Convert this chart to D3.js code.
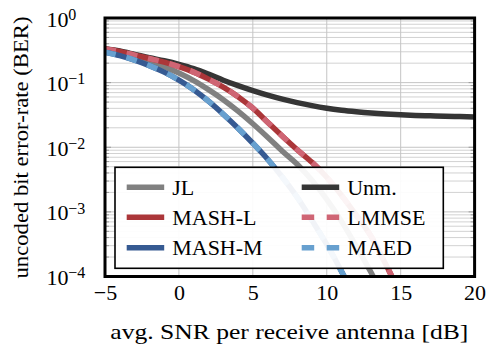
<!DOCTYPE html>
<html>
<head>
<meta charset="utf-8">
<script src="https://cdn.jsdelivr.net/npm/d3@7"></script>
<style>
  html, body { margin: 0; padding: 0; background: #fff; }
  svg text { font-family: "Liberation Serif", "Times New Roman", serif; fill: #000; }
</style>
</head>
<body>
<div id="chart"></div>
<script>
// SNR grid in dB (x values), one entry per data point
const snrDb = [-5, -4, -3, -2, -1, 0, 1, 2, 3, 4, 5, 6, 7, 8, 9, 10, 11, 12, 13, 14, 15, 16, 17, 18, 19, 20];

// BER, starting at -5 dB
const berUnm = [0.335, 0.308, 0.274, 0.243, 0.218, 0.192, 0.165, 0.1355, 0.109, 0.0898, 0.0752, 0.064, 0.0555,
  0.049, 0.044, 0.0402, 0.0375, 0.0355, 0.0339, 0.0327, 0.0318, 0.0311, 0.0306, 0.0301, 0.0298, 0.0295];
const berMashL = [0.331, 0.303, 0.267, 0.236, 0.208, 0.177, 0.1455, 0.1133, 0.0851, 0.0607, 0.0402, 0.0244,
  0.0148, 0.00915, 0.00585, 0.00343, 0.0018, 0.000883, 0.000417, 0.000153, 0.0000526];
const berLmmse = [0.331, 0.303, 0.267, 0.236, 0.208, 0.177, 0.1455, 0.1133, 0.0851, 0.0607, 0.0402, 0.0244,
  0.0148, 0.00915, 0.00585, 0.00343, 0.0018, 0.000883, 0.000417, 0.000153, 0.0000526];
const berJl = [0.313, 0.287, 0.253, 0.216, 0.177, 0.1404, 0.1074, 0.0779, 0.0545, 0.0362, 0.0231, 0.01429,
  0.00867, 0.00545, 0.00308, 0.00156, 0.000713, 0.000292, 0.000115, 0.0000395];
const berMashM = [0.297, 0.262, 0.223, 0.1835, 0.1455, 0.1093, 0.0779, 0.0517, 0.0325, 0.01972, 0.01153,
  0.00652, 0.00343, 0.00168, 0.000738, 0.000313, 0.0001196, 0.0000425];
const berMaed = [0.297, 0.262, 0.223, 0.1835, 0.1455, 0.1093, 0.0779, 0.0517, 0.0325, 0.01972, 0.01153,
  0.00652, 0.00343, 0.00168, 0.000738, 0.000313, 0.0001196, 0.0000425];

const xTicks = [-5, 0, 5, 10, 15, 20];
const xTickLabels = ["\u22125", "0", "5", "10", "15", "20"];
const yTicks = [1, 1e-1, 1e-2, 1e-3, 1e-4];
const yTickExp = ["0", "\u22121", "\u22122", "\u22123", "\u22124"];

// drawing order follows the plot; legend is filled row by row
const series = [
  { name: "JL", values: berJl, color: "#808080", dash: null },
  { name: "Unm.", values: berUnm, color: "#353535", dash: null },
  { name: "MASH-L", values: berMashL, color: "#ab3639", dash: null },
  { name: "LMMSE", values: berLmmse, color: "#cf6574", dash: "11,11" },
  { name: "MASH-M", values: berMashM, color: "#365a92", dash: null },
  { name: "MAED", values: berMaed, color: "#67a0cf", dash: "11,11" },
];

const width = 495;
const height = 353;
const plot = { l: 105, r: 474.6, t: 18, b: 276.5 };

const svg = d3.select("#chart").append("svg")
  .attr("width", width)
  .attr("height", height);

const x = d3.scaleLinear().domain([-5, 20]).range([plot.l, plot.r]);
const y = d3.scaleLog().domain([1e-4, 1]).range([plot.b, plot.t]);

// grid: minor log lines first, then major
const minor = [];
[1e-4, 1e-3, 1e-2, 1e-1].forEach((dec) => {
  for (let k = 2; k <= 9; k++) minor.push(dec * k);
});

const grid = svg.append("g");
grid.selectAll(".minor").data(minor).enter().append("line")
  .attr("x1", plot.l).attr("x2", plot.r)
  .attr("y1", (d) => y(d)).attr("y2", (d) => y(d))
  .attr("stroke", "#d2d2d2").attr("stroke-width", 1);
grid.selectAll(".majory").data(yTicks).enter().append("line")
  .attr("x1", plot.l).attr("x2", plot.r)
  .attr("y1", (d) => y(d)).attr("y2", (d) => y(d))
  .attr("stroke", "#c4c4c4").attr("stroke-width", 1);
grid.selectAll(".majorx").data(xTicks).enter().append("line")
  .attr("x1", (d) => x(d)).attr("x2", (d) => x(d))
  .attr("y1", plot.t).attr("y2", plot.b)
  .attr("stroke", "#c4c4c4").attr("stroke-width", 1);

// small inside ticks on left and right
const tickG = svg.append("g").attr("stroke", "#9a9a9a").attr("stroke-width", 1);
minor.concat(yTicks).forEach((d) => {
  const len = yTicks.includes(d) ? 6 : 4;
  tickG.append("line").attr("x1", plot.l).attr("x2", plot.l + len).attr("y1", y(d)).attr("y2", y(d));
  tickG.append("line").attr("x1", plot.r - len).attr("x2", plot.r).attr("y1", y(d)).attr("y2", y(d));
});

svg.append("clipPath").attr("id", "clip")
  .append("rect")
  .attr("x", plot.l).attr("y", plot.t)
  .attr("width", plot.r - plot.l).attr("height", plot.b - plot.t);

const line = d3.line()
  .x((d) => x(d[0]))
  .y((d) => y(d[1]))
  .curve(d3.curveMonotoneX);

const curves = svg.append("g").attr("clip-path", "url(#clip)");
series.forEach((s) => {
  const pts = s.values.map((v, i) => [snrDb[i], v]);
  curves.append("path")
    .attr("d", line(pts))
    .attr("fill", "none")
    .attr("stroke", s.color)
    .attr("stroke-width", 5.5)
    .attr("stroke-dasharray", s.dash);
});

// legend
const legend = svg.append("g");
legend.append("rect")
  .attr("x", 115).attr("y", 167.3)
  .attr("width", 328.3).attr("height", 101)
  .attr("fill", "#fff").attr("fill-opacity", 0.93)
  .attr("stroke", "#000").attr("stroke-width", 1.6);

const cols = [126.7, 301.7];
const rows = [187.3, 217.3, 247.7];
series.forEach((s, i) => {
  const cx = cols[i % 2];
  const cy = rows[Math.floor(i / 2)];
  legend.append("line")
    .attr("x1", cx).attr("x2", cx + 37.5)
    .attr("y1", cy).attr("y2", cy)
    .attr("stroke", s.color)
    .attr("stroke-width", 5.5)
    .attr("stroke-dasharray", s.dash ? "12.5,12.5" : null);
  legend.append("text")
    .attr("x", cx + 45.5)
    .attr("y", cy + 7.3)
    .attr("font-size", "22px")
    .text(s.name);
});

// axis frame
svg.append("rect")
  .attr("x", plot.l).attr("y", plot.t)
  .attr("width", plot.r - plot.l).attr("height", plot.b - plot.t)
  .attr("fill", "none").attr("stroke", "#000").attr("stroke-width", 3);

// x axis labels
svg.append("g")
  .attr("transform", `translate(0, ${plot.b})`)
  .call(d3.axisBottom(x).tickValues(xTicks).tickSize(0).tickPadding(0)
    .tickFormat((d, i) => xTickLabels[i]))
  .call((g) => g.select(".domain").remove())
  .selectAll("text")
  .attr("dy", null)
  .attr("y", 23.5)
  .attr("font-size", "22px")
  .attr("font-family", '"Liberation Serif", "Times New Roman", serif');

// y axis labels 10^k
const yLab = svg.append("g");
yTicks.forEach((d, i) => {
  yLab.append("text")
    .attr("x", 46.5).attr("y", y(d) + 8.5)
    .attr("font-size", "22px")
    .text("10");
  yLab.append("text")
    .attr("x", 68.3).attr("y", y(d) + 1.8)
    .attr("font-size", "16px")
    .text(yTickExp[i]);
});

// axis titles
svg.append("text")
  .attr("x", 289.3).attr("y", 338.5)
  .attr("text-anchor", "middle")
  .attr("font-size", "22px")
  .attr("textLength", 358)
  .attr("lengthAdjust", "spacingAndGlyphs")
  .text("avg. SNR per receive antenna [dB]");

svg.append("text")
  .attr("transform", "translate(27.5, 147.5) rotate(-90)")
  .attr("text-anchor", "middle")
  .attr("font-size", "22px")
  .attr("textLength", 262)
  .attr("lengthAdjust", "spacingAndGlyphs")
  .text("uncoded bit error-rate (BER)");
</script>
</body>
</html>
